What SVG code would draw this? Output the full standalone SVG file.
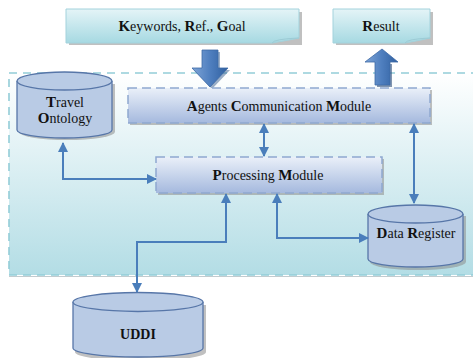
<svg xmlns="http://www.w3.org/2000/svg" width="473" height="358" viewBox="0 0 473 358">
  <defs>
    <linearGradient id="gContainer" x1="0" y1="0" x2="0" y2="1">
      <stop offset="0" stop-color="#ffffff"/>
      <stop offset="1" stop-color="#b3dde5"/>
    </linearGradient>
    <linearGradient id="gNote" x1="0" y1="0" x2="0" y2="1">
      <stop offset="0" stop-color="#e4f4f7"/>
      <stop offset="1" stop-color="#a6d9e2"/>
    </linearGradient>
    <linearGradient id="gModule" x1="0" y1="0" x2="0" y2="1">
      <stop offset="0" stop-color="#eaf0f9"/>
      <stop offset="1" stop-color="#a5b9de"/>
    </linearGradient>
    <linearGradient id="gBlock" x1="0" y1="0" x2="1" y2="0">
      <stop offset="0" stop-color="#7ea4d6"/>
      <stop offset="0.5" stop-color="#4f7fbf"/>
      <stop offset="1" stop-color="#2f5f9f"/>
    </linearGradient>
    <marker id="ah" viewBox="0 0 10 10" refX="9" refY="5" markerWidth="10" markerHeight="10" markerUnits="userSpaceOnUse" orient="auto-start-reverse">
      <path d="M0,0 L10,5 L0,10 z" fill="#4a7ebb"/>
    </marker>
  </defs>
  <style>
    .lbl { font-family: "Liberation Serif", "Times New Roman", serif; font-size: 14px; fill: #111; text-anchor: middle; }
    .cap { font-weight: bold; font-size: 15px; }
    .b { font-weight: bold; }
    .note { fill: url(#gNote); stroke: #a3d2dc; stroke-width: 1; }
    .module { fill: url(#gModule); stroke: #8fa8d0; stroke-width: 1.5; stroke-dasharray: 9 5; }
    .shadow { fill: #8c8c8c; opacity: 0.55; }
    .cyl { fill: #b9cbe5; stroke: #5776a8; stroke-width: 1.3; }
    .conn { fill: none; stroke: #4a7ebb; stroke-width: 2; }
    .block { fill: url(#gBlock); stroke: #3d6aa6; stroke-width: 0.8; }
  </style>

  <!-- container -->
  <g id="container">
    <rect x="9" y="73" width="470" height="202" fill="url(#gContainer)" stroke="#93cdd8" stroke-width="1.6" stroke-dasharray="8 6"/>
    <line x1="9" y1="276.5" x2="473" y2="276.5" stroke="#9aaab0" stroke-width="1" opacity="0.6"/>
  </g>

  <!-- input note -->
  <g id="keywords">
    <path class="shadow" d="M69,12 L302,12 L302,45 L69,45 z"/>
    <path class="note" d="M66,9 L299,9 L299,38 Q290,40 272,43 L66,43 z"/>
    <path d="M272,43 Q274,39 299,38" fill="none" stroke="#9ccbd5" stroke-width="1"/>
    <text class="lbl" x="182" y="31"><tspan class="cap">K</tspan>eywords, <tspan class="cap">R</tspan>ef., <tspan class="cap">G</tspan>oal</text>
  </g>

  <!-- output note -->
  <g id="result">
    <path class="shadow" d="M336,12 L433,12 L433,45 L336,45 z"/>
    <path class="note" d="M333,9 L430,9 L430,38 Q422,40 405,43 L333,43 z"/>
    <path d="M405,43 Q407,39 430,38" fill="none" stroke="#9ccbd5" stroke-width="1"/>
    <text class="lbl" x="381" y="31"><tspan class="cap">R</tspan>esult</text>
  </g>

  <!-- block arrows -->
  <g id="arrow-in">
    <path d="M204,52 L220,52 L220,70 L230,70 L212,89 L194,70 L204,70 z" fill="#3a5f8f" opacity="0.5"/>
    <path class="block" d="M202,50 L218,50 L218,68 L228,68 L210,87 L192,68 L202,68 z"/>
  </g>
  <g id="arrow-out">
    <path d="M377,64 L392,64 L392,87 L377,87 z" fill="#2f4f7a" opacity="0.6"/>
    <path class="block" d="M382,49 L398,62 L390,62 L390,85 L375,85 L375,62 L365,62 z"/>
  </g>

  <!-- agents communication module -->
  <g id="agents">
    <rect class="shadow" x="130" y="90" width="302" height="35"/>
    <rect class="module" x="128" y="88" width="302" height="35"/>
    <text class="lbl" x="279" y="111"><tspan class="cap">A</tspan>gents <tspan class="cap">C</tspan>ommunication <tspan class="cap">M</tspan>odule</text>
  </g>

  <!-- processing module -->
  <g id="processing">
    <rect class="shadow" x="158" y="159" width="226" height="36"/>
    <rect class="module" x="156" y="157" width="226" height="36"/>
    <text class="lbl" x="268" y="180"><tspan class="cap">P</tspan>rocessing <tspan class="cap">M</tspan>odule</text>
  </g>

  <!-- travel ontology store -->
  <g id="ontology">
    <path class="shadow" d="M19,84 L19,132 A48,8 0 0 0 115,132 L115,84 z"/>
    <path class="cyl" d="M17,81 L17,130 A47.5,8 0 0 0 112,130 L112,81"/>
    <ellipse class="cyl" cx="64.5" cy="81" rx="47.5" ry="9"/>
    <text class="lbl" x="65" y="107"><tspan class="cap">T</tspan>ravel</text>
    <text class="lbl" x="65" y="123"><tspan class="cap">O</tspan>ntology</text>
  </g>

  <!-- data register store -->
  <g id="data-register">
    <path class="shadow" d="M370,216 L370,262 A48,8 0 0 0 466,262 L466,216 z"/>
    <path class="cyl" d="M368,214 L368,259 A47.5,8 0 0 0 463,259 L463,214"/>
    <ellipse class="cyl" cx="415.5" cy="214" rx="47.5" ry="9"/>
    <text class="lbl" x="416" y="238"><tspan class="cap">D</tspan>ata <tspan class="cap">R</tspan>egister</text>
  </g>

  <!-- uddi store -->
  <g id="uddi">
    <path class="shadow" d="M75,305 L75,352 A65,9 0 0 0 206,352 L206,305 z"/>
    <path class="cyl" d="M73,302 L73,348 A65,9 0 0 0 203,348 L203,302"/>
    <ellipse class="cyl" cx="138" cy="302" rx="65" ry="9.5"/>
    <text class="lbl b" x="138" y="339">UDDI</text>
  </g>

  <!-- connectors -->
  <g id="connectors">
    <path class="conn" d="M63,143 L63,179 L156,179" marker-start="url(#ah)" marker-end="url(#ah)"/>
    <path class="conn" d="M264,124 L264,156" marker-start="url(#ah)" marker-end="url(#ah)"/>
    <path class="conn" d="M414,124 L414,203" marker-start="url(#ah)" marker-end="url(#ah)"/>
    <path class="conn" d="M277,194 L277,238 L368,238" marker-start="url(#ah)" marker-end="url(#ah)"/>
    <path class="conn" d="M226,194 L226,242 L137,242 L137,292" marker-start="url(#ah)" marker-end="url(#ah)"/>
  </g>
</svg>
